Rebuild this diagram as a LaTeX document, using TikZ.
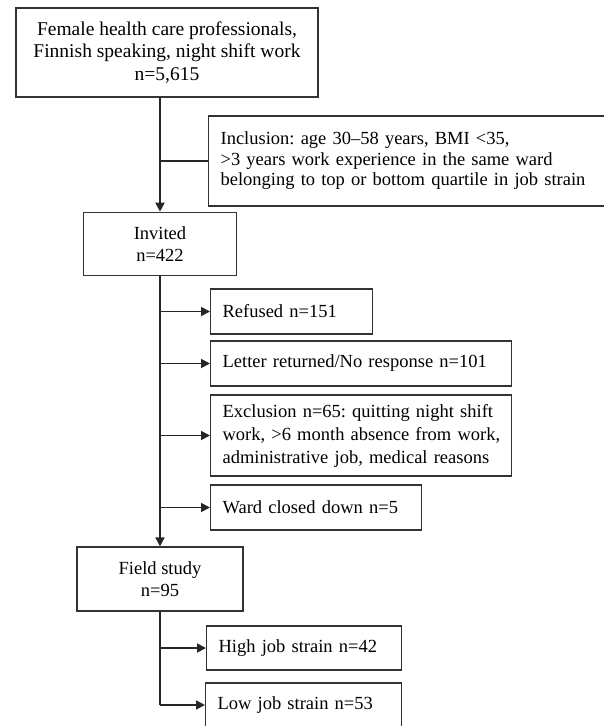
\documentclass[tikz,border=0pt]{standalone}
\usepackage{fontspec}
\setmainfont{Liberation Serif}
\usetikzlibrary{arrows.meta}
\frenchspacing
\begin{document}
\begin{tikzpicture}[x=1pt,y=-1pt,
  box/.style={draw=black!80,line width=1.2pt,inner sep=0pt,font=\fontsize{18.5}{22}\selectfont},
  mainbox/.style={box,align=center},
  sidebox/.style={box,anchor=west,align=left,inner xsep=12pt},
  arr/.style={line width=1.8pt,black!85,-{Triangle[length=9pt,width=9pt]}},
  link/.style={line width=1.8pt,black!85}]
\useasboundingbox (0,0) rectangle (603,726);
\node[mainbox,minimum width=302pt,minimum height=89pt,
  font=\fontsize{19.5}{22.5}\selectfont] (pool) at (167,52.5)
  {Female health care professionals,\\Finnish speaking, night shift work\\n=5,615};
\node[sidebox,minimum width=410pt,minimum height=90pt,text width=386pt,
  font=\fontsize{18.5}{20.5}\selectfont] (incl) at (208,161)
  {Inclusion: age 30--58 years, BMI <35,\\>3 years work experience in the same ward\\belonging to top or bottom quartile in job strain};
\node[mainbox,minimum width=153pt,minimum height=63.5pt] (invited) at (160,244) {Invited\\n=422};
\node[sidebox,minimum width=162pt,minimum height=45pt,text width=138pt] (refused) at (210,311.5) {Refused n=151};
\node[sidebox,minimum width=301pt,minimum height=45pt,text width=277pt] (letter) at (210,363.5) {Letter returned/No response n=101};
\node[sidebox,minimum width=301pt,minimum height=81pt,text width=283pt,inner xsep=9pt,
  font=\fontsize{18.5}{23}\selectfont] (excl) at (210,435.5)
  {\hspace*{3pt}Exclusion n=65: quitting night shift\\\hspace*{3pt}work, >6 month absence from work,\\\hspace*{3pt}administrative job, medical reasons};
\node[sidebox,minimum width=211pt,minimum height=45pt,text width=187pt] (ward) at (210,507.5) {Ward closed down n=5};
\node[mainbox,minimum width=166pt,minimum height=64pt] (field) at (160,579) {Field study\\n=95};
\node[sidebox,minimum width=195pt,minimum height=44pt,text width=171pt] (high) at (206,648) {High job strain n=42};
\node[sidebox,minimum width=196pt,minimum height=44pt,text width=172pt] (low) at (205,705) {Low job strain n=53};
\draw[arr] (pool.south -| invited.north) -- (invited.north);
\draw[link] (invited.north |- incl.west) -- (incl.west);
\draw[arr] (invited.south) -- (field.north);
\foreach \side in {refused,letter,excl,ward}
  \draw[arr] (invited.south |- \side.west) -- (\side.west);
\draw[link] (field.south) -- (field.south |- low.west);
\foreach \side in {high,low}
  \draw[arr] (field.south |- \side.west) -- (\side.west);
\end{tikzpicture}
\end{document}
